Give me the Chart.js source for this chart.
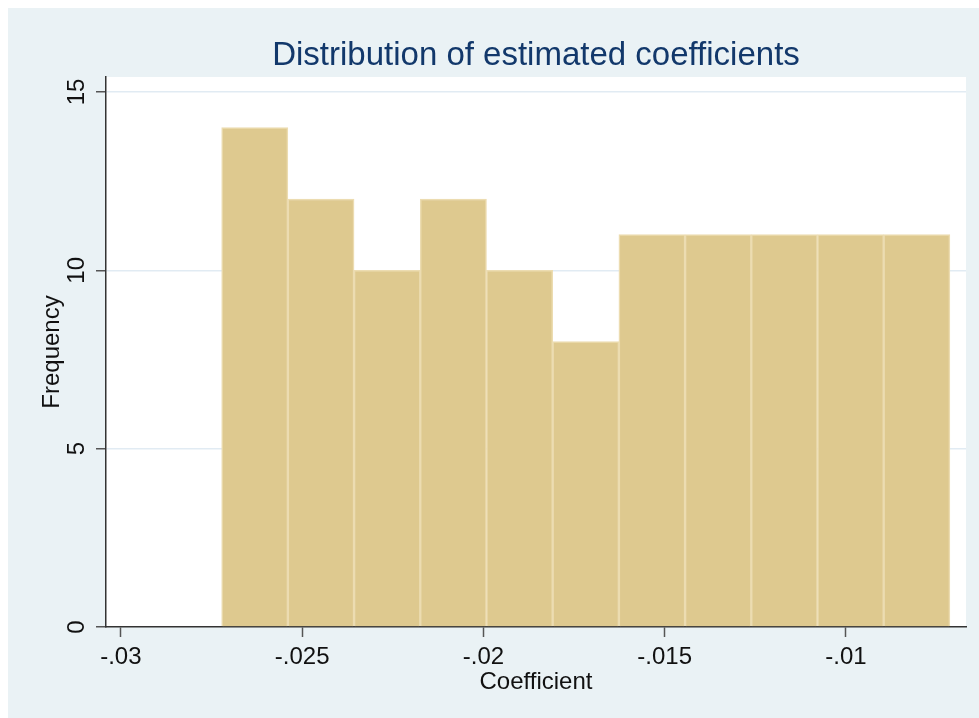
<!DOCTYPE html>
<html>
<head>
<meta charset="utf-8">
<script src="https://cdn.jsdelivr.net/npm/chart.js@4.4.1/dist/chart.umd.min.js"></script>
<style>
  html, body { margin: 0; padding: 0; background: #eaf2f5; overflow: hidden; }
  #wrap { position: fixed; left: 8px; top: 8px; right: 0; bottom: 0; background: #eaf2f5; }
  .band { position: fixed; background: #ffffff; }
  #bandTop { left: 0; top: 0; right: 0; height: 8px; }
  #bandLeft { left: 0; top: 0; bottom: 0; width: 8px; }
</style>
</head>
<body>
<div id="bandTop" class="band"></div>
<div id="bandLeft" class="band"></div>
<div id="wrap"><canvas id="hist"></canvas></div>
<script>
// histogram bins
const binEdges = [-0.02722, -0.025394, -0.023568, -0.021742, -0.019916, -0.01809,
  -0.016264, -0.014438, -0.012612, -0.010786, -0.00896, -0.007134];
const frequency = [14, 12, 10, 12, 10, 8, 11, 11, 11, 11, 11];

const xTickValues = [-0.03, -0.025, -0.02, -0.015, -0.01];
const xTickLabels = ['-.03', '-.025', '-.02', '-.015', '-.01'];
const yTickValues = [0, 5, 10, 15];
const yTickLabels = ['0', '5', '10', '15'];

const FONT = '"Liberation Sans", Arial, Helvetica, sans-serif';

const points = frequency.map((f, i) => ({ x: (binEdges[i] + binEdges[i + 1]) / 2, y: f }));

const plotBg = {
  id: 'plotBg',
  beforeDraw(chart) {
    const { ctx, chartArea: a } = chart;
    ctx.save();
    ctx.fillStyle = '#ffffff';
    ctx.fillRect(a.left, a.top, a.right - a.left, a.bottom - a.top);
    ctx.restore();
  },
};

// y tick labels are drawn rotated like the Stata original
const yLabels = {
  id: 'yLabels',
  afterDraw(chart) {
    const { ctx } = chart;
    const y = chart.scales.y;
    ctx.save();
    ctx.font = '24px ' + FONT;
    ctx.fillStyle = '#111111';
    ctx.textAlign = 'center';
    ctx.textBaseline = 'middle';
    yTickValues.forEach((v, i) => {
      ctx.save();
      ctx.translate(69, y.getPixelForValue(v));
      ctx.rotate(-Math.PI / 2);
      ctx.fillText(yTickLabels[i], 0, 0);
      ctx.restore();
    });
    ctx.restore();
  },
};

new Chart(document.getElementById('hist'), {
  type: 'bar',
  data: {
    datasets: [{
      data: points,
      backgroundColor: '#dec98f',
      borderColor: '#ecdcb1',
      borderWidth: 1.5,
      barPercentage: 1,
      categoryPercentage: 1,
      grouped: false,
    }],
  },
  options: {
    responsive: true,
    maintainAspectRatio: false,
    animation: false,
    layout: { padding: { left: 0, right: 13, top: 0, bottom: 0 } },
    plugins: {
      legend: { display: false },
      tooltip: { enabled: false },
      title: {
        display: true,
        fullSize: false,
        text: 'Distribution of estimated coefficients',
        color: '#12386b',
        font: { family: FONT, size: 33, weight: 'normal', lineHeight: 1.2 },
        padding: { top: 28, bottom: 1.4 },
      },
    },
    scales: {
      x: {
        type: 'linear',
        offset: false,
        min: -0.03041,
        max: -0.00669,
        afterBuildTicks: s => { s.ticks = xTickValues.map(v => ({ value: v })); },
        afterFit: s => { s.height = 91; },
        ticks: {
          callback: (v, i) => xTickLabels[i],
          color: '#111111',
          font: { family: FONT, size: 24 },
          padding: 6,
          maxRotation: 0,
          autoSkip: false,
        },
        grid: { offset: false, drawOnChartArea: false, drawTicks: true, tickLength: 10, tickColor: '#555555', tickWidth: 1.5 },
        border: { color: '#333333', width: 1.5 },
        title: {
          display: true,
          text: 'Coefficient',
          color: '#111111',
          font: { family: FONT, size: 24 },
          padding: { top: 0, bottom: 21 },
        },
      },
      y: {
        min: 0,
        max: 15.42,
        afterBuildTicks: s => { s.ticks = yTickValues.map(v => ({ value: v })); },
        afterFit: s => { s.width = 98; },
        ticks: { display: false },
        grid: {
          color: c => (c.tick && c.tick.value === 0 ? 'rgba(0,0,0,0)' : '#e1ebf3'),
          lineWidth: 1.5,
          drawTicks: true,
          tickLength: 10,
          tickColor: '#555555',
          tickWidth: 1.5,
        },
        border: { color: '#333333', width: 1.5 },
        title: {
          display: true,
          text: 'Frequency',
          color: '#111111',
          font: { family: FONT, size: 24 },
          padding: { top: 30, bottom: 0 },
        },
      },
    },
  },
  plugins: [plotBg, yLabels],
});
</script>
</body>
</html>
